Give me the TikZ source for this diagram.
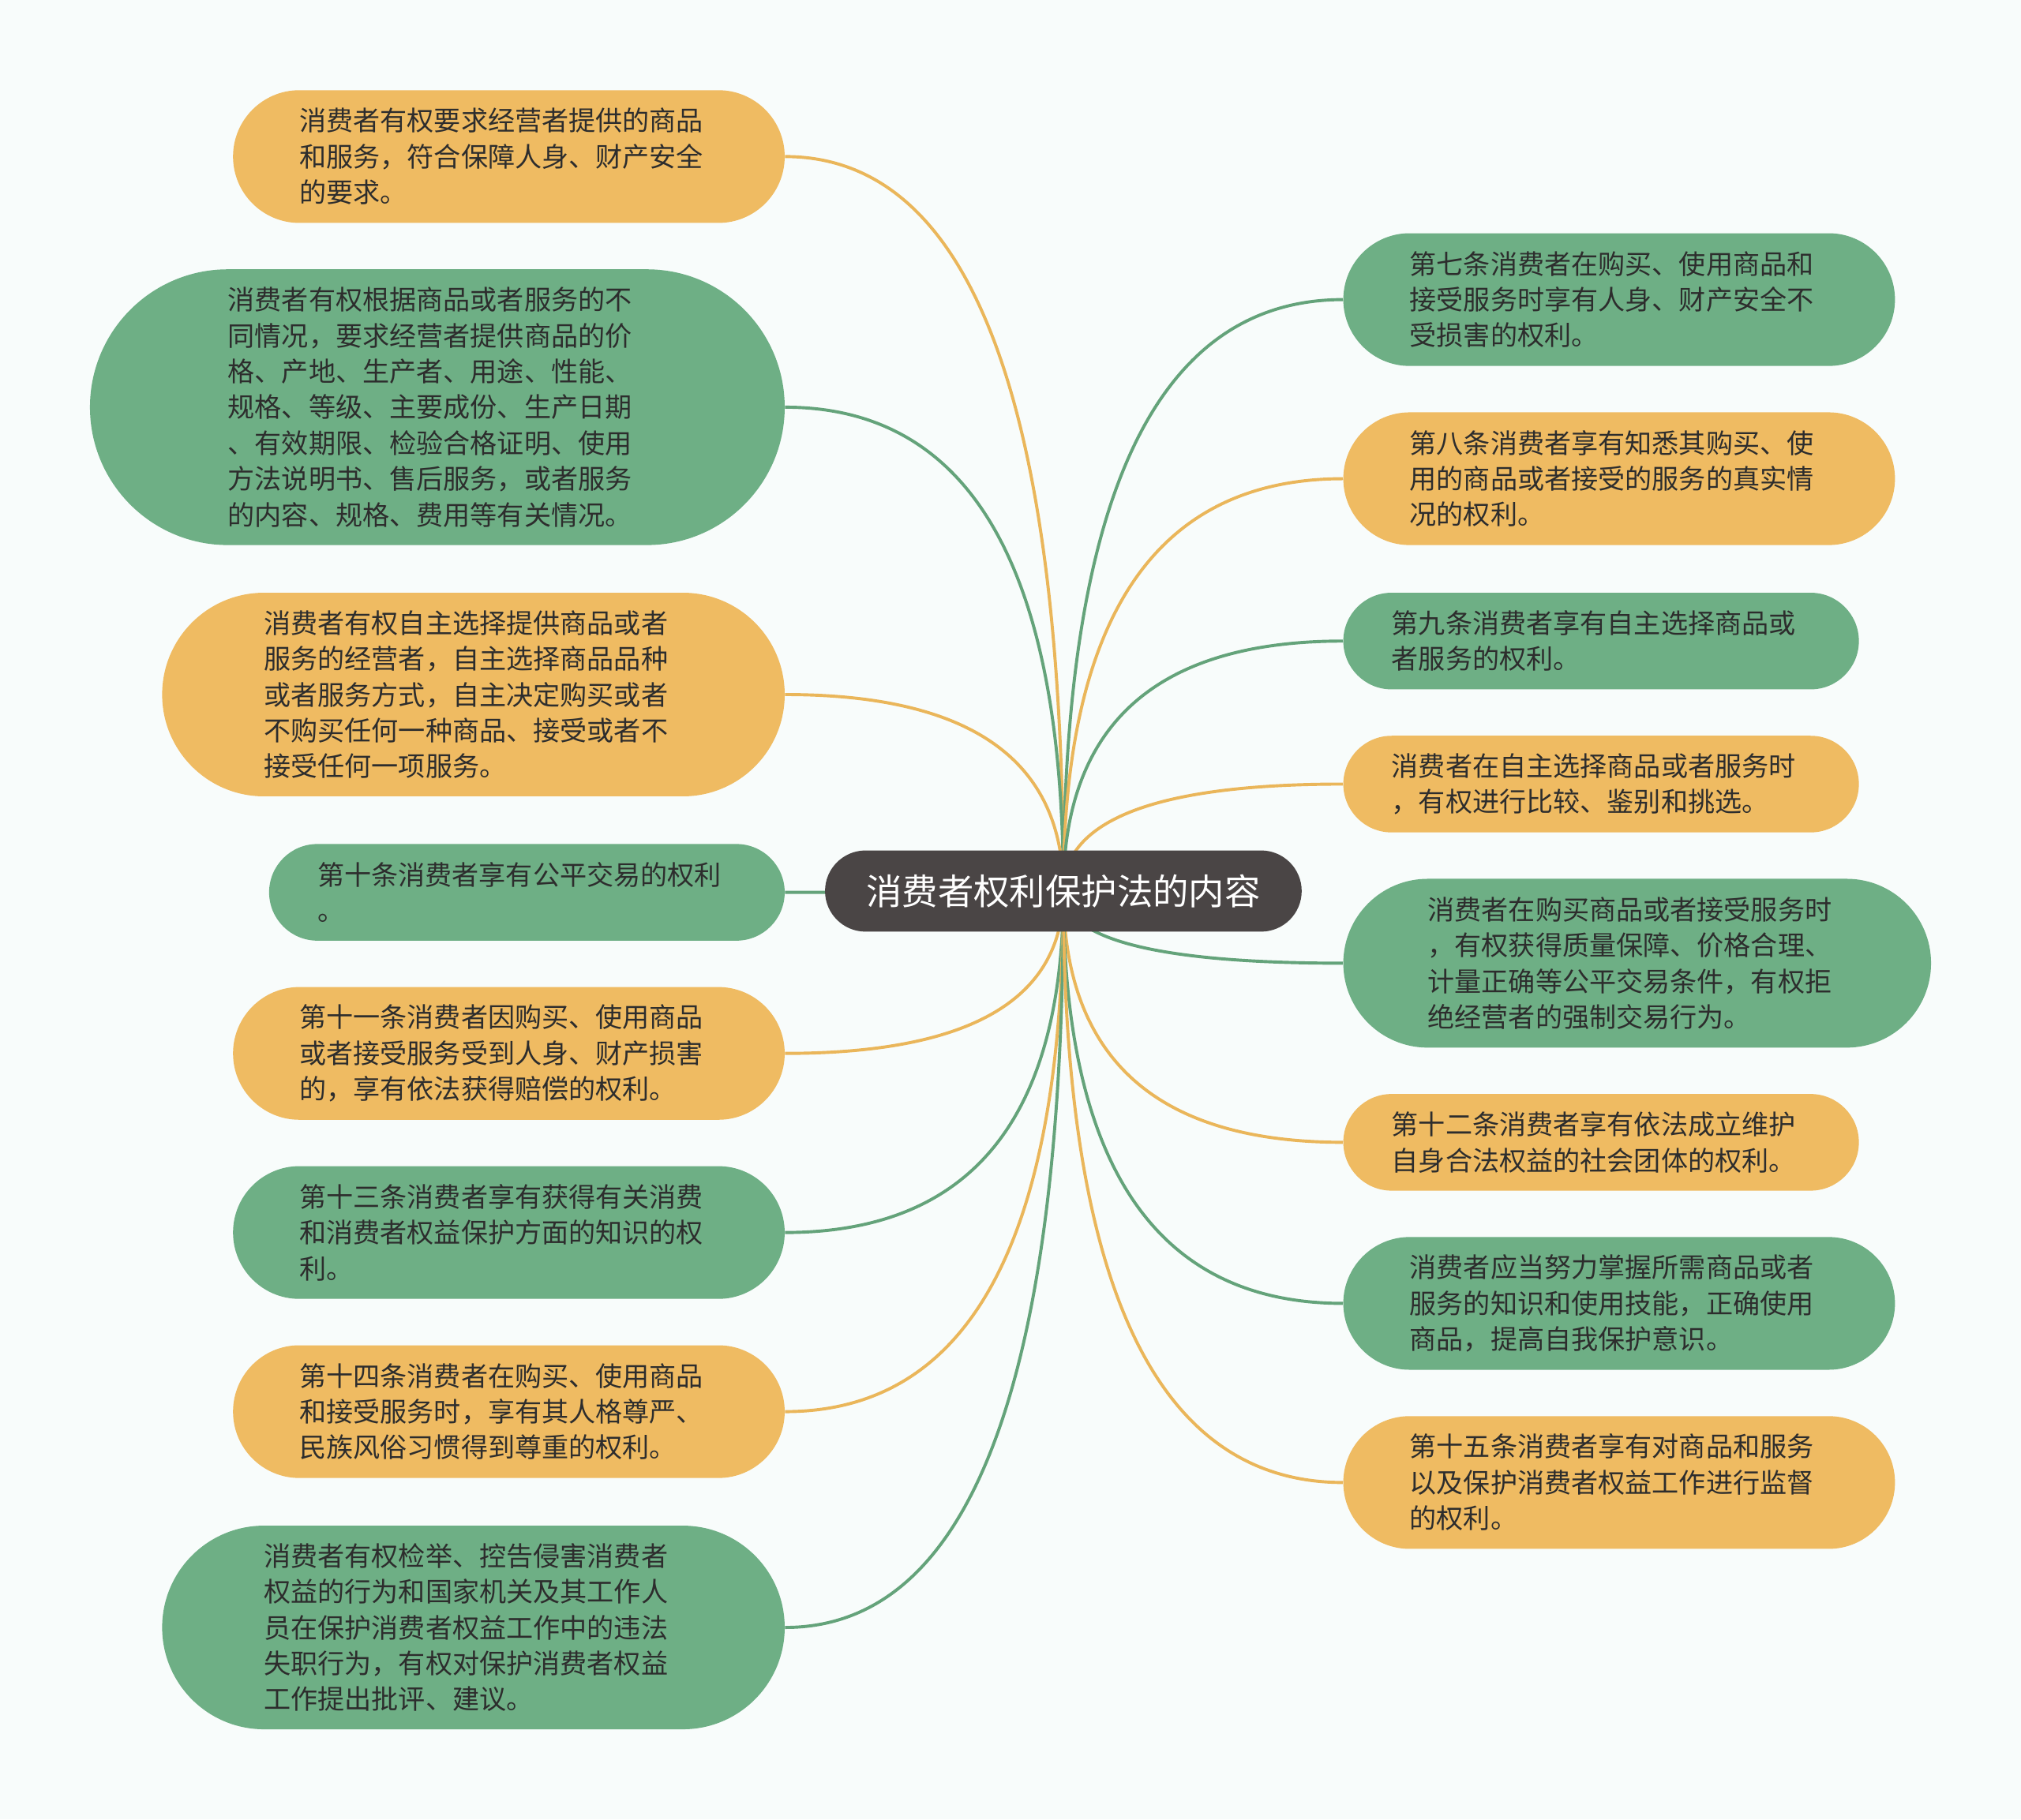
\documentclass[tikz,border=0pt]{standalone}
\usepackage{fontspec}
\setmainfont{Noto Sans CJK SC}
\usetikzlibrary{calc}
\pgfdeclarelayer{back}
\pgfdeclarelayer{bg}
\pgfsetlayers{back,bg,main}
\definecolor{gfill}{RGB}{110,175,133}
\definecolor{yfill}{RGB}{239,187,98}
\definecolor{gline}{RGB}{100,163,122}
\definecolor{yline}{RGB}{234,182,90}
\definecolor{rootfill}{RGB}{74,69,69}
\definecolor{txt}{RGB}{45,45,45}
\definecolor{bgc}{RGB}{248,252,251}
\tikzset{
  leaf/.style={inner ysep=0pt, inner xsep=#1/2, minimum height=#1, rounded corners=#1/2,
    text width=325pt, align=left, font=\fontsize{20.9}{27.8}\selectfont, text=txt},
  gleaf/.style={leaf=#1, fill=gfill},
  yleaf/.style={leaf=#1, fill=yfill},
  rootnode/.style={fill=rootfill, text=white, inner ysep=0pt, inner xsep=32pt, minimum height=63pt,
    rounded corners=31.5pt, font=\fontsize{27.8}{33}\selectfont},
  gcon/.style={draw=gline, line width=2.4pt},
  ycon/.style={draw=yline, line width=2.4pt}
}
\newcommand\mmlink[2]{\draw[#1] (root.center) .. controls ($(root.center)!0.667!(root.center |- #2)$) and ($(#2)!0.667!(root.center |- #2)$) .. (#2);}
\begin{document}
\begin{tikzpicture}[x=1pt,y=-1pt]
\begin{pgfonlayer}{back}
\fill[bgc] (0,0) rectangle (1568,1412);
\end{pgfonlayer}
\useasboundingbox (0,0) rectangle (1568,1412);
\node[rootnode] (root) at (825,691.5) {消费者权利保护法的内容};
% left
\node[yleaf=103, anchor=east] (L1) at (609,121.5) {消费者有权要求经营者提供的商品\\和服务，符合保障人身、财产安全\\的要求。};
\node[gleaf=214, anchor=east] (L2) at (609,316) {消费者有权根据商品或者服务的不\\同情况，要求经营者提供商品的价\\格、产地、生产者、用途、性能、\\规格、等级、主要成份、生产日期\\、有效期限、检验合格证明、使用\\方法说明书、售后服务，或者服务\\的内容、规格、费用等有关情况。};
\node[yleaf=158, anchor=east] (L3) at (609,539) {消费者有权自主选择提供商品或者\\服务的经营者，自主选择商品品种\\或者服务方式，自主决定购买或者\\不购买任何一种商品、接受或者不\\接受任何一项服务。};
\node[gleaf=75, anchor=east] (L4) at (609,692.5) {第十条消费者享有公平交易的权利\\。};
\node[yleaf=103, anchor=east] (L5) at (609,817.5) {第十一条消费者因购买、使用商品\\或者接受服务受到人身、财产损害\\的，享有依法获得赔偿的权利。};
\node[gleaf=103, anchor=east] (L6) at (609,956.5) {第十三条消费者享有获得有关消费\\和消费者权益保护方面的知识的权\\利。};
\node[yleaf=103, anchor=east] (L7) at (609,1095.5) {第十四条消费者在购买、使用商品\\和接受服务时，享有其人格尊严、\\民族风俗习惯得到尊重的权利。};
\node[gleaf=158, anchor=east] (L8) at (609,1263) {消费者有权检举、控告侵害消费者\\权益的行为和国家机关及其工作人\\员在保护消费者权益工作中的违法\\失职行为，有权对保护消费者权益\\工作提出批评、建议。};
% right
\node[gleaf=103, anchor=west] (R1) at (1042,232.5) {第七条消费者在购买、使用商品和\\接受服务时享有人身、财产安全不\\受损害的权利。};
\node[yleaf=103, anchor=west] (R2) at (1042,371.5) {第八条消费者享有知悉其购买、使\\用的商品或者接受的服务的真实情\\况的权利。};
\node[gleaf=75, anchor=west] (R3) at (1042,497.5) {第九条消费者享有自主选择商品或\\者服务的权利。};
\node[yleaf=75, anchor=west] (R4) at (1042,608.5) {消费者在自主选择商品或者服务时\\，有权进行比较、鉴别和挑选。};
\node[gleaf=131, anchor=west] (R5) at (1042,747.5) {消费者在购买商品或者接受服务时\\，有权获得质量保障、价格合理、\\计量正确等公平交易条件，有权拒\\绝经营者的强制交易行为。};
\node[yleaf=75, anchor=west] (R6) at (1042,886.5) {第十二条消费者享有依法成立维护\\自身合法权益的社会团体的权利。};
\node[gleaf=103, anchor=west] (R7) at (1042,1011.5) {消费者应当努力掌握所需商品或者\\服务的知识和使用技能，正确使用\\商品，提高自我保护意识。};
\node[yleaf=103, anchor=west] (R8) at (1042,1150.5) {第十五条消费者享有对商品和服务\\以及保护消费者权益工作进行监督\\的权利。};
\begin{pgfonlayer}{bg}
\mmlink{ycon}{L1.east}
\mmlink{gcon}{L2.east}
\mmlink{ycon}{L3.east}
\mmlink{gcon}{L4.east}
\mmlink{ycon}{L5.east}
\mmlink{gcon}{L6.east}
\mmlink{ycon}{L7.east}
\mmlink{gcon}{L8.east}
\mmlink{gcon}{R1.west}
\mmlink{ycon}{R2.west}
\mmlink{gcon}{R3.west}
\mmlink{ycon}{R4.west}
\mmlink{gcon}{R5.west}
\mmlink{ycon}{R6.west}
\mmlink{gcon}{R7.west}
\mmlink{ycon}{R8.west}
\end{pgfonlayer}
\end{tikzpicture}
\end{document}
